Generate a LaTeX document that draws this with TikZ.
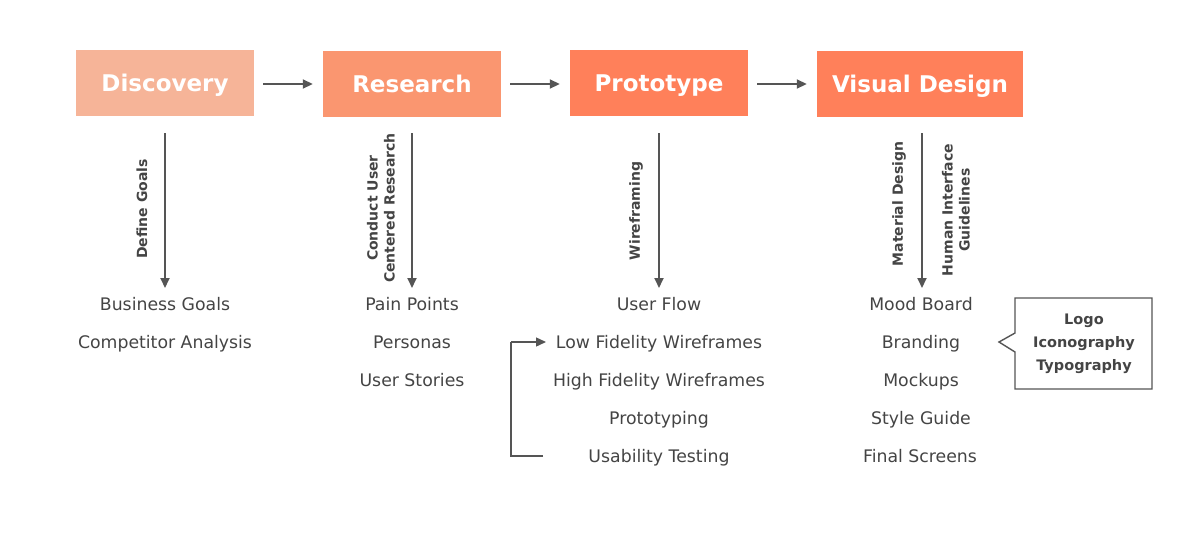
\documentclass[tikz,border=0pt]{standalone}
\usepackage{fontspec}
\setmainfont{DejaVu Sans}
\usetikzlibrary{arrows.meta}
\definecolor{txt}{HTML}{444444}
\definecolor{arr}{HTML}{555555}
\definecolor{cA}{HTML}{F6B498}
\definecolor{cB}{HTML}{FA9670}
\definecolor{cC}{HTML}{FF805A}
\tikzset{
  phase/.style={minimum height=66pt, inner sep=0pt, text=white, text height=16.5pt, text depth=0pt, font=\fontsize{23}{27}\selectfont\bfseries},
  item/.style={text=txt, font=\fontsize{17.3}{20}\selectfont, inner sep=0pt, text height=12.5pt, text depth=0pt, anchor=center},
  vlab/.style={text=txt, font=\fontsize{14}{17}\selectfont\bfseries, rotate=90, align=center, inner sep=0pt},
  flow/.style={draw=arr, line width=1.8pt, -{Triangle[length=10pt,width=9pt]}},
  loopline/.style={draw=arr, line width=1.4pt},
  cbox/.style={text=txt, font=\fontsize{14.5}{23}\selectfont\bfseries, align=center, inner sep=0pt}
}
\begin{document}
\begin{tikzpicture}[x=1pt,y=-1pt]
\useasboundingbox (0,0) rectangle (1200,541);
% phase boxes
\node[phase, fill=cA, minimum width=178pt] (disc) at (165,83) {Discovery};
\node[phase, fill=cB, minimum width=178pt] (res) at (412,84) {Research};
\node[phase, fill=cC, minimum width=178pt] (proto) at (659,83) {Prototype};
\node[phase, fill=cC, minimum width=206pt] (vis) at (920,84) {Visual Design};
% horizontal arrows
\draw[flow] ([xshift=9pt]disc.east |- 0,84) -- ([xshift=-10pt]res.west |- 0,84);
\draw[flow] ([xshift=9pt]res.east |- 0,84) -- ([xshift=-10pt]proto.west |- 0,84);
\draw[flow] ([xshift=9pt]proto.east |- 0,84) -- ([xshift=-10pt]vis.west |- 0,84);
% list items
\node[item] (bg) at (165,304) {Business Goals};
\node[item] (ca) at (165,342) {Competitor Analysis};
\node[item] (pp) at (412,304) {Pain Points};
\node[item] (pe) at (412,342) {Personas};
\node[item] (us) at (412,380) {User Stories};
\node[item] (uf) at (659,304) {User Flow};
\node[item] (lf) at (659,342) {Low Fidelity Wireframes};
\node[item] (hf) at (659,380) {High Fidelity Wireframes};
\node[item] (pt) at (659,418) {Prototyping};
\node[item] (ut) at (659,456) {Usability Testing};
\node[item] (mb) at (921,304) {Mood Board};
\node[item] (br) at (921,342) {Branding};
\node[item] (mk) at (921,380) {Mockups};
\node[item] (sg) at (921,418) {Style Guide};
\node[item] (fs) at (920,456) {Final Screens};
% vertical arrows
\coordinate (d1) at (165,288);
\coordinate (r1) at (412,288);
\coordinate (p1) at (659,288);
\coordinate (v1) at (922,288);
\draw[flow] (165,133) -- (d1);
\draw[flow] (412,133) -- (r1);
\draw[flow] (659,133) -- (p1);
\draw[flow] (922,133) -- (v1);
% vertical labels
\node[vlab] (l1) at (142,209) {Define Goals};
\node[vlab] (l2) at (381,208) {Conduct User\\Centered Research};
\node[vlab] (l3) at (636,211) {Wireframing};
\node[vlab] (l4) at (899,204) {Material Design};
\node[vlab] (l5) at (956,210) {Human Interface\\Guidelines};
% loop arrow
\coordinate (la) at (543,456);
\coordinate (lb) at (511,456);
\coordinate (lc) at (511,342);
\coordinate (ld) at (546,342);
\draw[loopline] (la) -- (lb) -- (lc);
\draw[flow, line width=1.4pt] (lc) -- (ld);
% callout
\draw[draw=arr, line width=1.4pt, fill=white] (1015,298) -- (1152,298) -- (1152,389) -- (1015,389) -- (1015,352) -- (999,342) -- (1015,333) -- cycle;
\node[cbox] (cb) at (1084,344) {Logo\\Iconography\\Typography};
\end{tikzpicture}
\end{document}
